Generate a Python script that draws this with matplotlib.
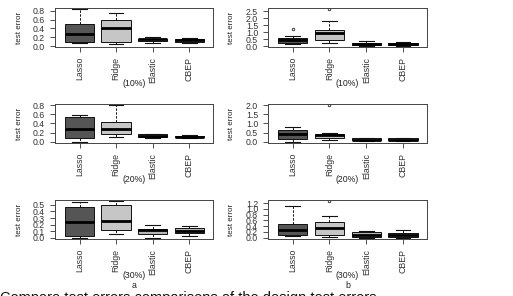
import matplotlib
matplotlib.use('Agg')
import matplotlib.pyplot as plt

plt.rcParams['font.family'] = ['Liberation Sans', 'DejaVu Sans']

methods = ['Lasso', 'Ridge', 'Elastic', 'CBEP']
box_colors = ['#555555', '#c6c6c6', '#b6b6b6', '#b0b0b0']

# five numbers per method: lower whisker, Q1, median, Q3, upper whisker
a10 = [[0.06, 0.09, 0.28, 0.49, 0.84],
       [0.04, 0.10, 0.41, 0.58, 0.75],
       [0.07, 0.11, 0.15, 0.17, 0.21],
       [0.07, 0.10, 0.13, 0.16, 0.19]]
a10_out = [[], [], [], []]

b10 = [[0.15, 0.24, 0.48, 0.60, 0.71],
       [0.24, 0.43, 0.95, 1.19, 1.79],
       [0.05, 0.10, 0.17, 0.24, 0.36],
       [0.05, 0.10, 0.17, 0.24, 0.31]]
b10_out = [[1.24], [2.62], [], []]

a20 = [[0.00, 0.07, 0.28, 0.54, 0.58],
       [0.10, 0.16, 0.28, 0.43, 0.80],
       [0.07, 0.09, 0.13, 0.17, 0.17],
       [0.075, 0.09, 0.11, 0.13, 0.15]]
a20_out = [[], [], [], []]

b20 = [[0.00, 0.15, 0.43, 0.65, 0.80],
       [0.07, 0.19, 0.34, 0.41, 0.50],
       [0.02, 0.06, 0.11, 0.19, 0.20],
       [0.02, 0.06, 0.11, 0.17, 0.20]]
b20_out = [[], [2.0], [], []]

a30 = [[0.005, 0.03, 0.235, 0.46, 0.54],
       [0.066, 0.12, 0.26, 0.49, 0.55],
       [0.005, 0.066, 0.12, 0.14, 0.19],
       [0.03, 0.07, 0.11, 0.15, 0.18]]
a30_out = [[], [], [], []]

b30 = [[0.05, 0.08, 0.25, 0.49, 1.11],
       [0.02, 0.09, 0.34, 0.54, 0.74],
       [0.00, 0.03, 0.09, 0.19, 0.22],
       [0.00, 0.03, 0.08, 0.15, 0.25]]
b30_out = [[], [1.26], [], []]

# (summaries, outliers, ylim, yticks, percent label)
panels = [
    [(a10, a10_out, (-0.02, 0.86), [0, 0.2, 0.4, 0.6, 0.8], '(10%)'),
     (b10, b10_out, (-0.05, 2.72), [0, 0.5, 1.0, 1.5, 2.0, 2.5], '(10%)')],
    [(a20, a20_out, (-0.032, 0.832), [0, 0.2, 0.4, 0.6, 0.8], '(20%)'),
     (b20, b20_out, (-0.08, 2.08), [0, 0.5, 1.0, 1.5, 2.0], '(20%)')],
    [(a30, a30_out, (-0.017, 0.572), [0, 0.1, 0.2, 0.3, 0.4, 0.5], '(30%)'),
     (b30, b30_out, (-0.05, 1.31), [0, 0.2, 0.4, 0.6, 0.8, 1.0, 1.2], '(30%)')],
]

W, H = 513, 296
fig = plt.figure(figsize=(W / 100, H / 100), dpi=100)

col_left = [55, 268]
col_width = [158, 159]
row_bottom = [47, 143, 239]
box_h = 39
txt = '#222222'

for r, row in enumerate(panels):
    for c, (summ, outs, ylim, yticks, pct) in enumerate(row):
        ax = fig.add_axes([col_left[c] / W, 1 - row_bottom[r] / H,
                           col_width[c] / W, box_h / H])
        stats = []
        for name, s, o in zip(methods, summ, outs):
            stats.append(dict(label=name, whislo=s[0], q1=s[1], med=s[2],
                              q3=s[3], whishi=s[4], fliers=o))
        bp = ax.bxp(stats, positions=[1, 2, 3, 4], widths=0.8, capwidths=0.4,
                    patch_artist=True,
                    boxprops=dict(edgecolor='#111111', linewidth=0.7),
                    whiskerprops=dict(color='#111111', linestyle='--',
                                      linewidth=0.7, dashes=(2.5, 1.5)),
                    capprops=dict(color='#111111', linewidth=0.8),
                    medianprops=dict(color='black', linewidth=2.0),
                    flierprops=dict(marker='o', markersize=1.8,
                                    markerfacecolor='none',
                                    markeredgecolor='#222222',
                                    markeredgewidth=0.6))
        for patch, col in zip(bp['boxes'], box_colors):
            patch.set_facecolor(col)
        ax.set_xlim(0.33, 4.65)
        ax.set_ylim(*ylim)
        ax.set_yticks(yticks)
        ax.set_yticklabels([f'{t:.1f}' for t in yticks], fontsize=6.3,
                           color=txt)
        ax.set_xticks([1, 2, 3, 4])
        ax.set_xticklabels(methods, rotation=90, fontsize=6.3, color=txt)
        ax.tick_params(length=3.6, width=0.6, pad=3.5, colors='#333333')
        for sp in ax.spines.values():
            sp.set_color('#444444')
            sp.set_linewidth(0.7)
        ax.set_ylabel('test error', fontsize=5.8, color=txt)
        ax.yaxis.set_label_coords(-0.205, 0.5)
        cx = (col_left[c] + col_width[c] / 2) / W
        fig.text(cx, 1 - (row_bottom[r] + 36) / H, pct, ha='center',
                 va='center', fontsize=6.3, color=txt)
        if r == 2:
            fig.text(cx, 1 - 286 / H, 'ab'[c], ha='center', va='center',
                     fontsize=6.3, color=txt)

fig.text(0.0, 1 - 291 / H,
         'Compare test errors comparisons of the design test errors',
         ha='left', va='top', fontsize=10.5, color='#111111')

fig.savefig('out.png', dpi=100)
